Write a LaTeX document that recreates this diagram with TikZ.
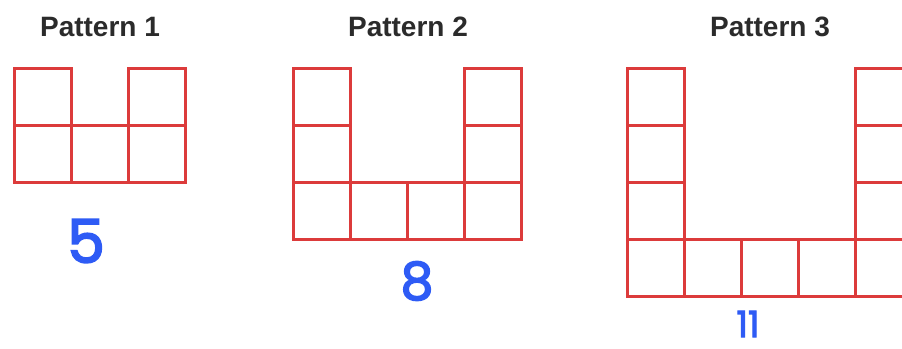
\documentclass[tikz,border=0pt]{standalone}
\usepackage{fontspec}
\setmainfont{Liberation Sans}
\newfontfamily\handfont[FakeBold=3]{Poppins}
\definecolor{gridred}{HTML}{DC3B3B}
\definecolor{penblue}{HTML}{2E5BF5}
\definecolor{titlegray}{HTML}{2B2B2B}
\tikzset{
  cell/.style={draw=gridred, line width=3pt},
  title/.style={font=\bfseries\fontsize{28}{30}\selectfont, text=titlegray, anchor=base, inner sep=0pt},
  count/.style={font=\handfont, text=penblue, inner sep=0pt}
}
\newcommand{\sq}[3]{\draw[cell] (#1+#2*57.2, 68+#3*57.2) rectangle ++(57.2,57.2);}
\begin{document}
\begin{tikzpicture}[x=1pt,y=-1pt]
\useasboundingbox (0,0) rectangle (902,348);
\fill[white] (0,0) rectangle (902,348);
\clip (0,0) rectangle (902,348);
% titles
\node[title] (t1) at (100,36) {Pattern 1};
\node[title] (t2) at (408,36) {Pattern 2};
\node[title] (t3) at (770,36) {Pattern 3};
% pattern 1
\foreach \c/\r in {0/0,2/0,0/1,1/1,2/1} { \sq{14}{\c}{\r} }
% pattern 2
\foreach \c/\r in {0/0,3/0,0/1,3/1,0/2,1/2,2/2,3/2} { \sq{293}{\c}{\r} }
% pattern 3
\foreach \c/\r in {0/0,4/0,0/1,4/1,0/2,4/2,0/3,1/3,2/3,3/3,4/3} { \sq{627}{\c}{\r} }
% counts
\node[count, font=\handfont\fontsize{60}{60}\selectfont] (n1) at (86,241) {5};
\node[count, font=\handfont\fontsize{52}{52}\selectfont] (n2) at (417,281) {8};
\node[count, font=\handfont\fontsize{36}{36}\selectfont] (n3) at (748,324) {11};
\end{tikzpicture}
\end{document}
